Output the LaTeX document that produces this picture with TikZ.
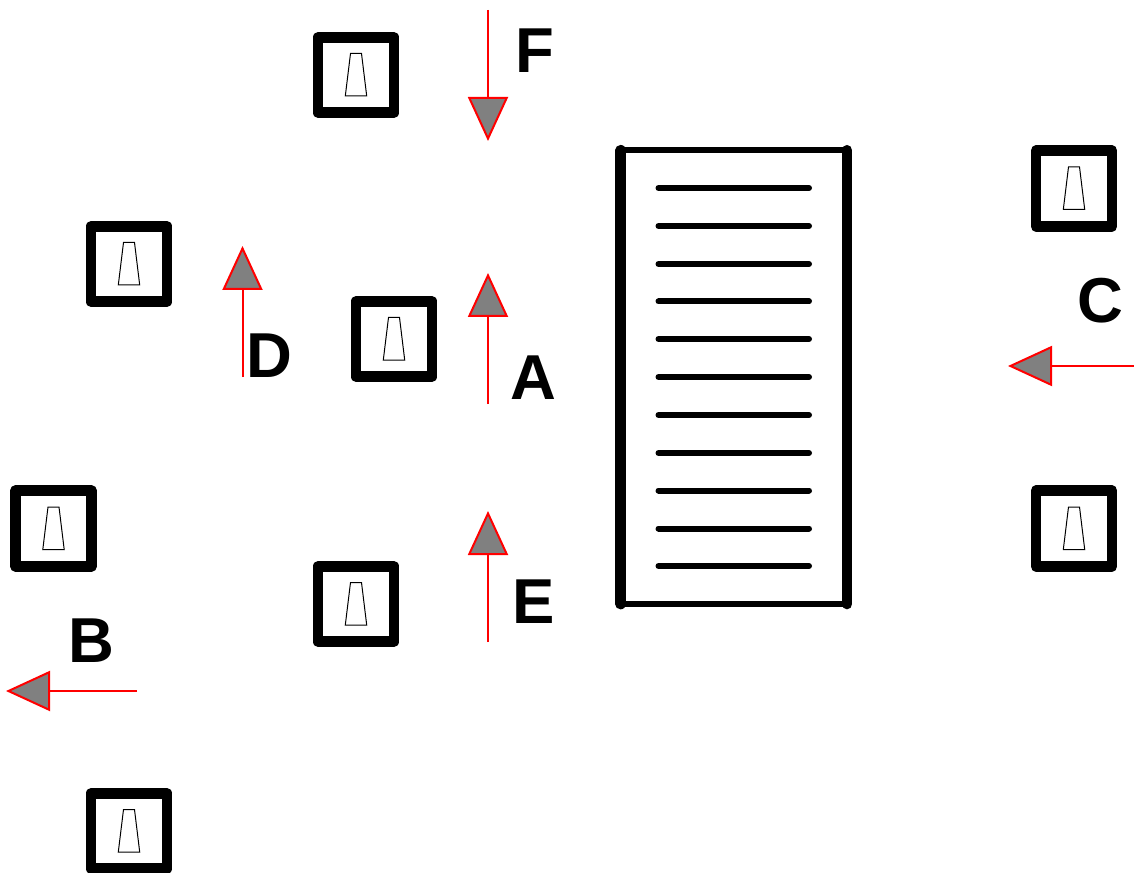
\documentclass[tikz,border=0pt]{standalone}
\usepackage{fontspec}
\setmainfont{Liberation Sans}
\usetikzlibrary{arrows.meta}
\newlength{\px}
\setlength{\px}{0.75pt}
\tikzset{
  x=\px, y=-\px,
  boothframe/.style={draw=black, line width=10.7\px, line join=round, minimum width=75.8\px, minimum height=75.5\px, inner sep=0pt, fill=white},
  boothmark/.style={draw=black, line width=1\px, line join=miter},
  flow/.style={draw=red, line width=1.5pt, -{Triangle[length=33pt, width=30pt, fill=gray, line width=1.5pt, sep=0pt]}},
  letter/.style={font=\fontsize{47.6pt}{47.6pt}\selectfont\bfseries, inner sep=0pt, text=black},
  rail/.style={draw=black, line width=10.7\px, line cap=round},
  crossbar/.style={draw=black, line width=6\px},
  slat/.style={draw=black, line width=6\px, line cap=round}
}
\newcommand{\booth}[3]{%
  \node[boothframe] (#1) at (#2,#3) {};
  \draw[boothmark] ([shift={(-5.5,-21.5)}]#1.center) -- ([shift={(5.5,-21.5)}]#1.center)
    -- ([shift={(10.7,21)}]#1.center) -- ([shift={(-10.7,21)}]#1.center) -- cycle;
}
\newcommand{\flowarrow}[5]{%
  \coordinate (#1t) at (#2,#3);
  \coordinate (#1h) at (#4,#5);
  \draw[flow] (#1t) -- (#1h);
}
\begin{document}
\begin{tikzpicture}
\useasboundingbox (0,0) rectangle (1134,873);
\clip (0,0) rectangle (1134,873);
\booth{b1}{356}{75}
\booth{b2}{129}{264}
\booth{b3}{394}{339}
\booth{b4}{53.5}{528.5}
\booth{b5}{356}{604}
\booth{b6}{129}{831}
\booth{b7}{1074}{188.5}
\booth{b8}{1074}{528.5}
% panel
\coordinate (pa) at (620.7,150.3);
\coordinate (pb) at (847,150.3);
\coordinate (pc) at (847,604);
\coordinate (pd) at (620.7,604);
\draw[crossbar] (pa) -- (pb);
\draw[crossbar] (pd) -- (pc);
\draw[rail] (pa) -- (pd);
\draw[rail] (pb) -- (pc);
\foreach \yy in {188,226,264,301.5,339,377,415,453,490.5,528.5,566}{
  \draw[slat] (658.5,\yy) -- (809,\yy);
}
% arrows
\flowarrow{f}{488}{10}{488}{141}
\flowarrow{d}{242.5}{377}{242.5}{246}
\flowarrow{a}{488}{404}{488}{273}
\flowarrow{e}{488}{642}{488}{511}
\flowarrow{c}{1134}{366}{1008}{366}
\flowarrow{b}{137}{691}{6}{691}
% labels
\node[letter] (lf) at (535,50.5) {F};
\node[letter] (la) at (533.5,378) {A};
\node[letter] (ld) at (269.5,356) {D};
\node[letter] (lc) at (1100.5,301) {C};
\node[letter] (le) at (534,602) {E};
\node[letter] (lb) at (91.5,641) {B};
\end{tikzpicture}
\end{document}
